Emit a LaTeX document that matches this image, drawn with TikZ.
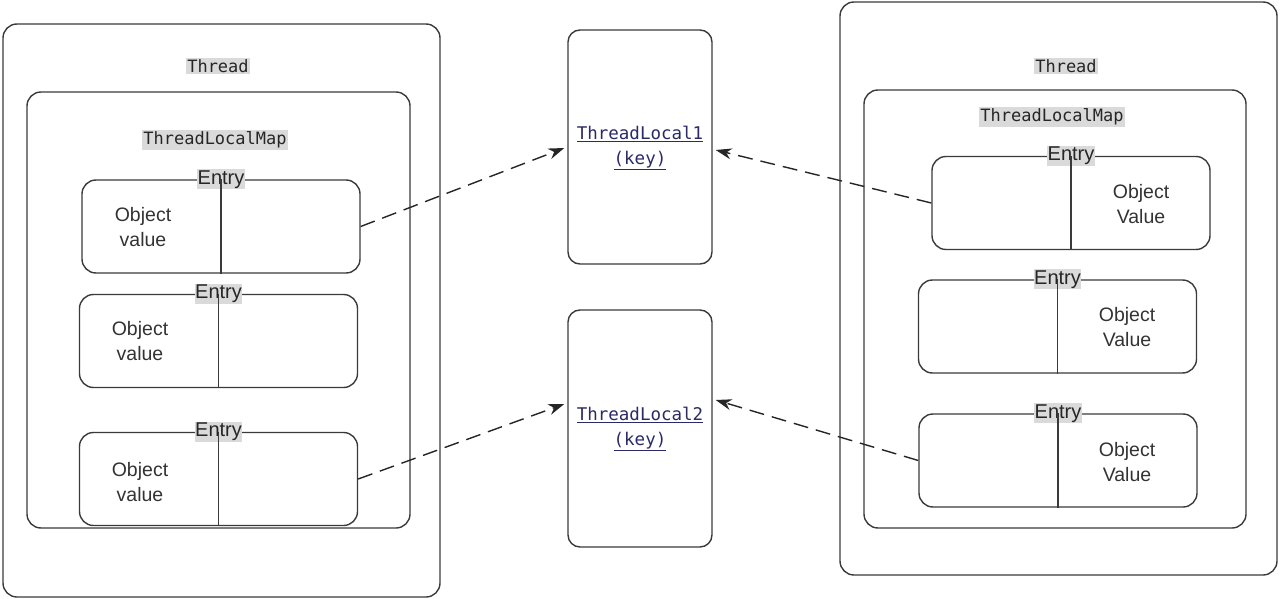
\documentclass[tikz,border=0pt]{standalone}
\usepackage{fontspec}
\setsansfont{Liberation Sans}
\setmonofont{DejaVu Sans Mono}
\usetikzlibrary{arrows.meta}
\definecolor{linegray}{HTML}{3A3A3A}
\definecolor{tagbg}{HTML}{DADADA}
\definecolor{keyblue}{HTML}{2A2A66}
\begin{document}
\begin{tikzpicture}[x=1pt,y=-1pt,
  box/.style={draw=linegray,line width=1.4pt,rounded corners=14pt,inner sep=0pt},
  keybox/.style={draw=linegray,line width=1.4pt,rounded corners=12pt,inner sep=0pt,
     minimum width=144pt},
  entrybox/.style={box,minimum width=278pt,minimum height=93pt},
  divider/.style={draw=linegray,line width=1.4pt},
  monolabel/.style={fill=tagbg,inner sep=1.5pt,font=\ttfamily\fontsize{17}{19}\selectfont,text=black!85},
  entrylabel/.style={fill=tagbg,inner xsep=0.5pt,inner ysep=1pt,font=\sffamily\fontsize{20}{22}\selectfont,text=black!85},
  valtext/.style={font=\sffamily\fontsize{19.5}{25}\selectfont,text=black!80,align=center},
  keytext/.style={font=\ttfamily\fontsize{17.5}{25}\selectfont,text=keyblue,align=center},
  link/.style={draw=black!85,line width=1.4pt,dash pattern=on 15pt off 8pt,
     -{Stealth[length=16pt,width=11pt]}}]
\useasboundingbox (0,0) rectangle (1280,599);

% ---- left thread ----
\node[box,minimum width=437pt,minimum height=573pt] (lthread) at (221.5,310.5) {};
\node[monolabel] (lthreadlbl) at (218,66) {Thread};
\node[box,minimum width=383pt,minimum height=436pt] (lmap) at (218.5,310) {};
\node[monolabel] (lmaplbl) at (215,140) {ThreadLocalMap};

\node[entrybox] (le1) at (221,226.5) {};
\node[entrybox] (le2) at (218.5,341) {};
\node[entrybox] (le3) at (218.5,479) {};
\foreach \e in {le1,le2,le3}{
  \node[entrylabel] at (\e.north) {Entry};
  \draw[divider] (\e.north) -- (\e.south);
}
\node[valtext] (lv1) at (143,227) {Object\\value};
\node[valtext] (lv2) at (140,341) {Object\\value};
\node[valtext] (lv3) at (140,482) {Object\\value};

% ---- thread-local keys ----
\node[keybox,minimum height=234pt] (tl1) at (640,147) {};
\node[keytext] (tl1txt) at (640,148) {\underline{ThreadLocal1}\\\underline{(key)}};
\node[keybox,minimum height=237pt] (tl2) at (640,428.5) {};
\node[keytext] (tl2txt) at (640,429) {\underline{ThreadLocal2}\\\underline{(key)}};

% ---- right thread ----
\node[box,minimum width=437pt,minimum height=573pt] (rthread) at (1058.5,288.5) {};
\node[monolabel] (rthreadlbl) at (1066,66) {Thread};
\node[box,minimum width=382pt,minimum height=438pt] (rmap) at (1055,309) {};
\node[monolabel] (rmaplbl) at (1052,117) {ThreadLocalMap};

\node[entrybox] (re1) at (1071,203) {};
\node[entrybox] (re2) at (1057.5,326.5) {};
\node[entrybox] (re3) at (1058,460.5) {};
\foreach \e in {re1,re2,re3}{
  \node[entrylabel] at (\e.north) {Entry};
  \draw[divider] (\e.north) -- (\e.south);
}
\node[valtext] (rv1) at (1141,204) {Object\\Value};
\node[valtext] (rv2) at (1127,327) {Object\\Value};
\node[valtext] (rv3) at (1127,462) {Object\\Value};

% ---- references from entries to their keys ----
\draw[link] (le1.east) -- ([xshift=-3pt,yshift=-1pt]tl1.west);
\draw[link] (le3.east) -- ([xshift=-3pt,yshift=24.5pt]tl2.west);
\draw[link] (re1.west) -- ([xshift=3pt,yshift=-3pt]tl1.east);
\draw[link] (re3.west) -- ([xshift=3pt,yshift=28.5pt]tl2.east);
\end{tikzpicture}
\end{document}
